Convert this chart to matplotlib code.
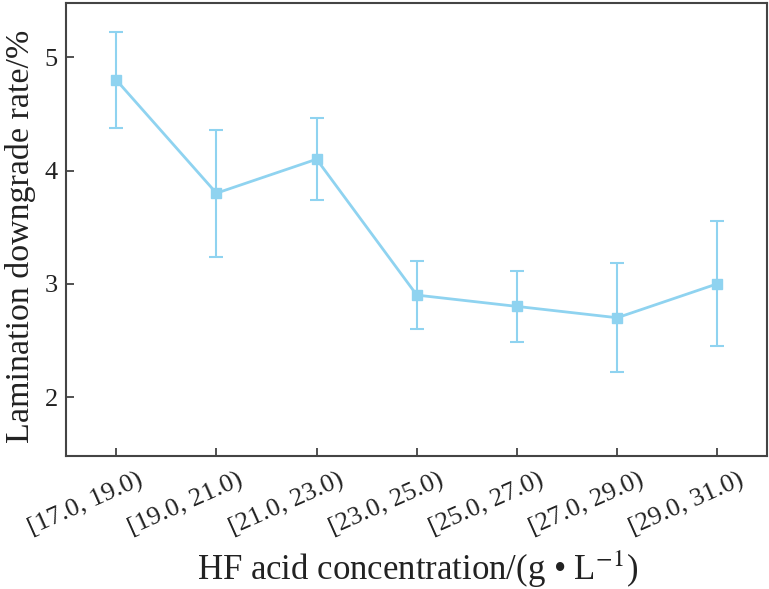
import matplotlib
matplotlib.use("Agg")
import matplotlib.pyplot as plt
import matplotlib.transforms as mtransforms
import numpy as np

categories = ["[17.0, 19.0)", "[19.0, 21.0)", "[21.0, 23.0)", "[23.0, 25.0)",
              "[25.0, 27.0)", "[27.0, 29.0)", "[29.0, 31.0)"]
rates = [4.8, 3.8, 4.1, 2.9, 2.8, 2.7, 3.0]
errors = [0.42, 0.56, 0.36, 0.30, 0.31, 0.48, 0.55]

plt.rcParams["font.family"] = ["Liberation Serif", "DejaVu Serif"]
plt.rcParams["mathtext.fontset"] = "stix"
color = "#8fd3f0"
text_color = "#222222"

fig = plt.figure(figsize=(7.69, 5.89), dpi=100)
ax = fig.add_axes([0.086, 0.226, 0.912, 0.769])

x = np.arange(len(categories))
ax.errorbar(x, rates, yerr=errors, color=color, marker="s", markersize=7,
            linewidth=2, elinewidth=1.5, capsize=5, capthick=1.5)

ax.set_xlim(-0.5, 6.5)
ax.set_ylim(1.48, 5.48)
ax.set_yticks([2, 3, 4, 5])
ax.set_xticks(x)
ax.set_xticklabels([])
ax.tick_params(direction="in", length=6, width=1.2, labelsize=19, colors="#333333")
ax.tick_params(axis="y", labelcolor=text_color, pad=6)
for s in ax.spines.values():
    s.set_color("#444444")
    s.set_linewidth(1.5)

# rotated category labels, shifted a little right of their ticks as in the source
trans = mtransforms.blended_transform_factory(ax.transData, ax.transAxes)
for xi, lab in zip(x, categories):
    ax.text(xi + 0.21, -0.028, lab, transform=trans, rotation=24,
            rotation_mode="anchor", ha="right", va="top", fontsize=19,
            color=text_color)

ax.set_ylabel("Lamination downgrade rate/%", fontsize=24.5, color=text_color)
ax.yaxis.set_label_coords(-0.043, 0.485)
fig.text(0.5436, 0.0153, "HF acid concentration/(g \u2022 L$^{-1}$)", fontsize=25,
         color=text_color, ha="center", va="baseline")

fig.savefig("out.png")
